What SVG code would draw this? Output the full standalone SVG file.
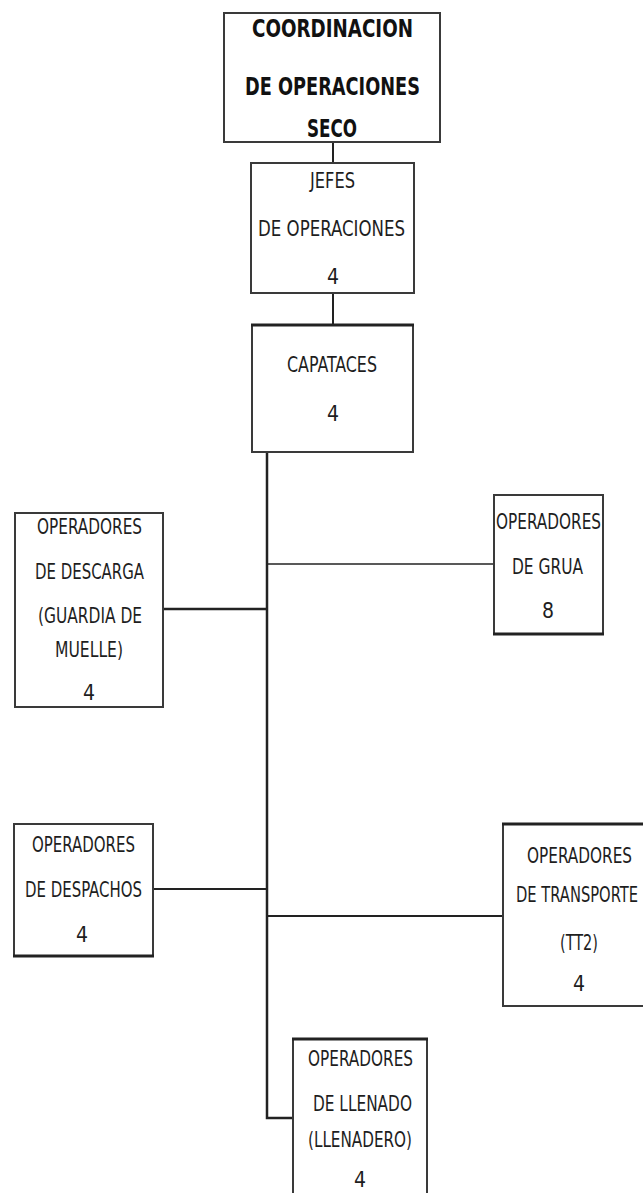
<svg xmlns="http://www.w3.org/2000/svg" width="643" height="1193" viewBox="0 0 643 1193">
<style>
.box{fill:#fff;stroke:#3a3a3a;stroke-width:2}
.thk{stroke:#222;stroke-width:3;fill:none}
.t{font-family:"Liberation Sans Narrow","DejaVu Sans Condensed","Liberation Sans",sans-serif;font-size:21px;fill:#1e1e1e;text-anchor:middle}
.b{font-family:"Liberation Sans Narrow","DejaVu Sans Condensed","Liberation Sans",sans-serif;font-size:25px;font-weight:bold;fill:#111;text-anchor:middle}
.c{stroke:#222;fill:none}
</style>
<rect width="643" height="1193" fill="#fff"/>
<g id="connectors">
<line class="c" x1="333" y1="142" x2="333" y2="163" stroke-width="2"/>
<line class="c" x1="333" y1="293" x2="333" y2="325" stroke-width="2"/>
<polyline class="c" points="267,452 267,1118 293,1118" stroke-width="2.5"/>
<line class="c" x1="163" y1="609" x2="268" y2="609" stroke-width="2.5"/>
<line class="c" x1="268" y1="564" x2="494" y2="564" stroke-width="1.5"/>
<line class="c" x1="153" y1="889" x2="268" y2="889" stroke-width="2"/>
<line class="c" x1="268" y1="916" x2="503" y2="916" stroke-width="2"/>
</g>
<g id="coordinacion">
<rect class="box" x="224" y="13" width="216" height="129"/>
<text class="b" x="332.5" y="37" textLength="161" lengthAdjust="spacingAndGlyphs">COORDINACION</text>
<text class="b" x="332.5" y="95" textLength="175" lengthAdjust="spacingAndGlyphs">DE OPERACIONES</text>
<text class="b" x="332" y="137" textLength="50" lengthAdjust="spacingAndGlyphs">SECO</text>
</g>
<g id="jefes">
<rect class="box" x="251" y="163" width="163" height="130"/>
<text class="t" x="332.5" y="188" textLength="45" lengthAdjust="spacingAndGlyphs">JEFES</text>
<text class="t" x="331.5" y="236" textLength="147" lengthAdjust="spacingAndGlyphs">DE OPERACIONES</text>
<text class="t" x="333" y="284">4</text>
</g>
<g id="capataces">
<rect class="box" x="252" y="325" width="161" height="127" stroke="#777" stroke-width="1.5"/>
<line class="thk" x1="251" y1="325" x2="414" y2="325"/>
<text class="t" x="332" y="372" textLength="90" lengthAdjust="spacingAndGlyphs">CAPATACES</text>
<text class="t" x="333" y="421">4</text>
</g>
<g id="descarga">
<rect class="box" x="15" y="513" width="148" height="194"/>
<text class="t" x="89.5" y="534" textLength="105" lengthAdjust="spacingAndGlyphs">OPERADORES</text>
<text class="t" x="89.5" y="579" textLength="109" lengthAdjust="spacingAndGlyphs">DE DESCARGA</text>
<text class="t" x="90" y="623" textLength="104" lengthAdjust="spacingAndGlyphs">(GUARDIA DE</text>
<text class="t" x="89" y="657" textLength="68" lengthAdjust="spacingAndGlyphs">MUELLE)</text>
<text class="t" x="89" y="700">4</text>
</g>
<g id="grua">
<rect class="box" x="494" y="495" width="109" height="139"/>
<line class="thk" x1="493" y1="634" x2="604" y2="634"/>
<text class="t" x="548.5" y="529" textLength="105" lengthAdjust="spacingAndGlyphs">OPERADORES</text>
<text class="t" x="547.5" y="574" textLength="71" lengthAdjust="spacingAndGlyphs">DE GRUA</text>
<text class="t" x="548" y="618">8</text>
</g>
<g id="despachos">
<rect class="box" x="14" y="824" width="139" height="132"/>
<line class="thk" x1="13" y1="956" x2="154" y2="956"/>
<text class="t" x="83.5" y="852" textLength="103" lengthAdjust="spacingAndGlyphs">OPERADORES</text>
<text class="t" x="83.5" y="897" textLength="117" lengthAdjust="spacingAndGlyphs">DE DESPACHOS</text>
<text class="t" x="82" y="942">4</text>
</g>
<g id="transporte">
<rect class="box" x="503" y="824" width="150" height="182"/>
<line class="thk" x1="502" y1="824" x2="645" y2="824"/>
<text class="t" x="579.5" y="863" textLength="105" lengthAdjust="spacingAndGlyphs">OPERADORES</text>
<text class="t" x="577" y="902" textLength="122" lengthAdjust="spacingAndGlyphs">DE TRANSPORTE</text>
<text class="t" x="579" y="950" textLength="38" lengthAdjust="spacingAndGlyphs">(TT2)</text>
<text class="t" x="579" y="991">4</text>
</g>
<g id="llenado">
<rect class="box" x="293" y="1039" width="134" height="170"/>
<line class="thk" x1="292" y1="1039" x2="428" y2="1039"/>
<text class="t" x="360.5" y="1066" textLength="105" lengthAdjust="spacingAndGlyphs">OPERADORES</text>
<text class="t" x="362.5" y="1111" textLength="99" lengthAdjust="spacingAndGlyphs">DE LLENADO</text>
<text class="t" x="360" y="1147" textLength="104" lengthAdjust="spacingAndGlyphs">(LLENADERO)</text>
<text class="t" x="360" y="1187">4</text>
</g>
</svg>
